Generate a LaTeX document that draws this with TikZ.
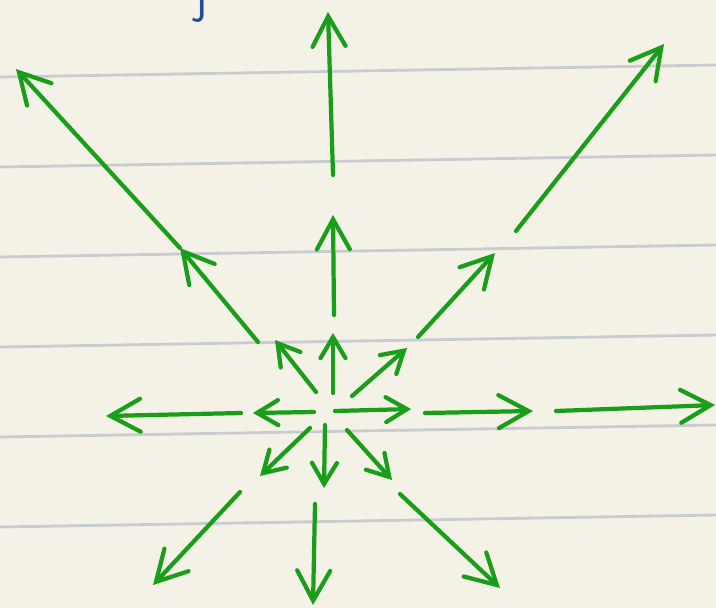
\documentclass[tikz,border=0pt]{standalone}
\usepackage{tikz}
\usetikzlibrary{arrows.meta}
\definecolor{paper}{RGB}{244,241,230}
\definecolor{ruling}{RGB}{200,204,208}
\definecolor{pen}{RGB}{24,158,24}
\definecolor{ink}{RGB}{30,78,154}
\begin{document}
\begin{tikzpicture}[
  x=0.02cm,y=-0.02cm,
  rule/.style={draw=ruling,line width=1.6pt},
  ray/.style={draw=pen,line width=2.4pt,line cap=round,
    -{Straight Barb[length=4.2mm,width=5mm,line cap=round]}},
  longray/.style={ray,-{Straight Barb[length=6mm,width=6.6mm,line cap=round]}}
]
  \clip (0,0) rectangle (716,608);
  \fill[paper] (0,0) rectangle (716,608);
  \foreach \y in {77,167,257,347,437,527}
    \draw[rule] (0,\y) -- (716,\y-12);

  \node[text=ink,font=\sffamily\fontsize{28}{28}\selectfont,anchor=base,inner sep=0pt] (letter) at (202,13) {j};

  \coordinate (u1s) at (333,393);  \coordinate (u1t) at (333,333);
  \coordinate (u2s) at (334,315);  \coordinate (u2t) at (333,215);
  \coordinate (u3s) at (333,175);  \coordinate (u3t) at (328,12);
  \coordinate (nw1s) at (316,392); \coordinate (nw1t) at (275,340);
  \coordinate (nw2s) at (258,342); \coordinate (nw2m) at (180,248);
  \coordinate (nw2t) at (16,69);
  \coordinate (ne1s) at (352,396); \coordinate (ne1t) at (407,348);
  \coordinate (ne2s) at (418,337); \coordinate (ne2t) at (495,253);
  \coordinate (ne3s) at (516,231); \coordinate (ne3t) at (664,44);
  \coordinate (e1s) at (335,411);  \coordinate (e1t) at (411,409);
  \coordinate (e2s) at (425,413);  \coordinate (e2t) at (533,411);
  \coordinate (e3s) at (556,411);  \coordinate (e3t) at (715,405);
  \coordinate (w1s) at (314,412);  \coordinate (w1t) at (253,413);
  \coordinate (w2s) at (241,413);  \coordinate (w2t) at (106,416);
  \coordinate (sw1s) at (310,428); \coordinate (sw1t) at (260,476);
  \coordinate (sw2s) at (240,492); \coordinate (sw2t) at (153,585);
  \coordinate (s1s) at (325,425);  \coordinate (s1t) at (324,488);
  \coordinate (s2s) at (315,504);  \coordinate (s2t) at (313,605);
  \coordinate (se1s) at (347,430); \coordinate (se1t) at (392,480);
  \coordinate (se2s) at (400,494); \coordinate (se2t) at (500,588);

  \path[every edge/.style=ray]
    (u1s) edge (u1t)  (nw1s) edge (nw1t)  (ne1s) edge (ne1t)
    (e1s) edge (e1t)  (w1s) edge (w1t)    (sw1s) edge (sw1t)
    (s1s) edge (s1t)  (se1s) edge (se1t);
  \path[every edge/.style=longray]
    (u2s) edge (u2t)  (u3s) edge (u3t)
    (nw2s) edge (nw2m)  (nw2m) edge (nw2t)
    (ne2s) edge (ne2t)  (ne3s) edge (ne3t)
    (e2s) edge (e2t)  (e3s) edge (e3t)
    (w2s) edge (w2t)  (sw2s) edge (sw2t)
    (s2s) edge (s2t)  (se2s) edge (se2t);
\end{tikzpicture}
\end{document}
